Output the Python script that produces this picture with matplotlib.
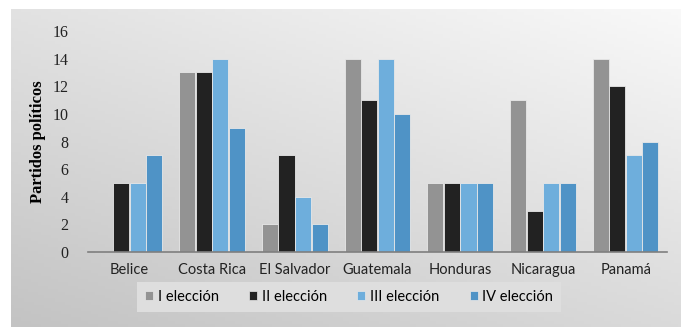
import numpy as np
import matplotlib
matplotlib.use("Agg")
import matplotlib.pyplot as plt
from matplotlib.patches import Patch

countries = ["Belice", "Costa Rica", "El Salvador", "Guatemala", "Honduras", "Nicaragua", "Panamá"]
series_names = ["I elección", "II elección", "III elección", "IV elección"]
eleccion_1 = [0, 13, 2, 14, 5, 11, 14]
eleccion_2 = [5, 13, 7, 11, 5, 3, 12]
eleccion_3 = [5, 14, 4, 14, 5, 5, 7]
eleccion_4 = [7, 9, 2, 10, 5, 5, 8]
yticks = [0, 2, 4, 6, 8, 10, 12, 14, 16]

colors = ["#939393", "#222222", "#6eaedc", "#4f93c6"]

plt.rcParams['font.family'] = ['Lato', 'DejaVu Sans']

fig = plt.figure(figsize=(6.81, 3.27), dpi=100)
fig.patch.set_facecolor("white")

# gradient backdrop (light top-right, darker bottom-left)
bg = fig.add_axes([11 / 681, 0, 1 - 11 / 681, 1 - 9 / 327], zorder=0)
gx, gy = np.meshgrid(np.linspace(0, 1, 200), np.linspace(1, 0, 100))
shade = 0.975 - 0.12 * (1 - gy) - 0.09 * (1 - gx)
bg.imshow(np.dstack([shade] * 3), aspect="auto", extent=[0, 1, 0, 1])
bg.axis("off")

ax = fig.add_axes([88 / 681, 1 - 252 / 327, (667 - 88) / 681, (252 - 31) / 327], zorder=1)
ax.patch.set_alpha(0)

x = np.arange(len(countries))
width = 0.2
for i, vals in enumerate([eleccion_1, eleccion_2, eleccion_3, eleccion_4]):
    ax.bar(x + (i - 1.5) * width, vals, width * 0.97, color=colors[i],
           edgecolor="#e8e8e8", linewidth=0.6, zorder=2)

ax.set_xlim(-0.5, len(countries) - 0.5)
ax.set_ylim(0, 16)
ax.set_yticks(yticks)
ax.set_yticklabels([str(t) for t in yticks], family=['Liberation Serif'], fontsize=11.5, color="#222222")
ax.set_xticks(x)
ax.set_xticklabels(countries, fontsize=10.5, color="#222222")
ax.tick_params(axis="both", length=0)
ax.tick_params(axis="y", pad=14)
ax.tick_params(axis="x", pad=8)
for s in ["top", "right", "left"]:
    ax.spines[s].set_visible(False)
ax.spines["bottom"].set_color("#7f7f7f")
ax.spines["bottom"].set_linewidth(1.2)
ax.set_ylabel("Partidos políticos", family=['Liberation Serif'], fontweight="bold",
              fontsize=12, labelpad=5)

handles = [Patch(facecolor=c, edgecolor="#e8e8e8", linewidth=0.5) for c in colors]
leg = fig.legend(handles, series_names, loc="center", bbox_to_anchor=(349 / 681, 1 - 297 / 327),
                 ncol=4, frameon=True, fontsize=10.5, handlelength=0.55, handleheight=0.55,
                 handletextpad=0.3, columnspacing=2.1, borderpad=0.55, fancybox=False)
leg.get_frame().set_facecolor("#dedede")
leg.get_frame().set_edgecolor("none")
leg.get_frame().set_alpha(1)

fig.savefig("out.png", dpi=100)
